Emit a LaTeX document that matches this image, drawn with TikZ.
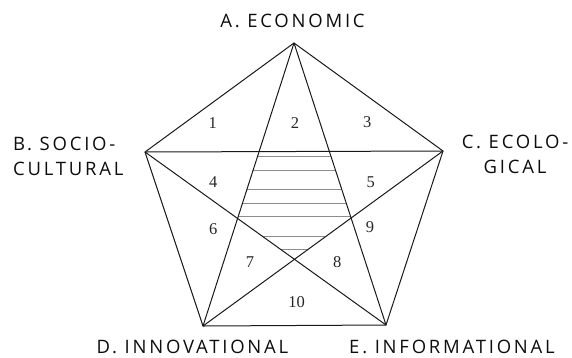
\documentclass[tikz,border=0pt]{standalone}
\usepackage{fontspec}
\setmainfont{Liberation Serif}
\newfontfamily\cornerfont[LetterSpace=15]{Open Sans}
\usepackage{tikz}

\tikzset{
  edge/.style={line width=1pt, black!90},
  hatch/.style={line width=0.9pt, black!45},
  corner/.style={font=\cornerfont\fontsize{18.5}{25}\selectfont, text=black!95, inner sep=0pt},
  region/.style={font=\fontsize{16.5}{16.5}\selectfont, text=black!85, inner sep=0pt}
}

\begin{document}
\begin{tikzpicture}[x=1pt,y=-1pt]
\useasboundingbox (0,0) rectangle (572,357);
% vertices
\coordinate (A) at (294,43);
\coordinate (B) at (145,152);
\coordinate (C) at (443,151);
\coordinate (D) at (203,326);
\coordinate (E) at (386,325);

% hatched core
\begin{scope}
\clip (intersection of A--D and B--C) -- (intersection of A--E and B--C)
  -- (intersection of A--E and C--D) -- (intersection of B--E and C--D)
  -- (intersection of A--D and B--E) -- cycle;
\foreach \y in {156.7,170.7,189,203.3,216.7,236,249.3}
  \draw[hatch] (200,\y) -- (400,\y);
\end{scope}

% pentagon and diagonals
\draw[edge] (A) -- (C) -- (E) -- (D) -- (B) -- cycle;
\draw[edge] (B) -- (C);
\draw[edge] (A) -- (D);
\draw[edge] (A) -- (E);
\draw[edge] (B) -- (E);
\draw[edge] (C) -- (D);

% corner labels
\node[corner] (econ) at (292.5,20.5) {A. ECONOMIC};
\node[corner, anchor=west, align=left] (socio) at (13,156.7) {B. SOCIO-\\CULTURAL};
\node[corner, align=center] (ecol) at (515,154.5) {C. ECOLO-\\GICAL};
\node[corner] (innov) at (192.5,346.5) {D. INNOVATIONAL};
\node[corner] (inform) at (452,346.5) {E. INFORMATIONAL};

% region numbers
\foreach \n/\x/\y in {1/212.7/123.3, 2/295/123.3, 3/367.3/121.7, 4/213.3/182.3,
  5/370.7/181.7, 6/213.3/229, 7/250/261.7, 8/337.3/261.7, 9/370/227.3, 10/296.7/301.7}
  \node[region] (r\n) at (\x,\y) {\n};
\end{tikzpicture}
\end{document}
